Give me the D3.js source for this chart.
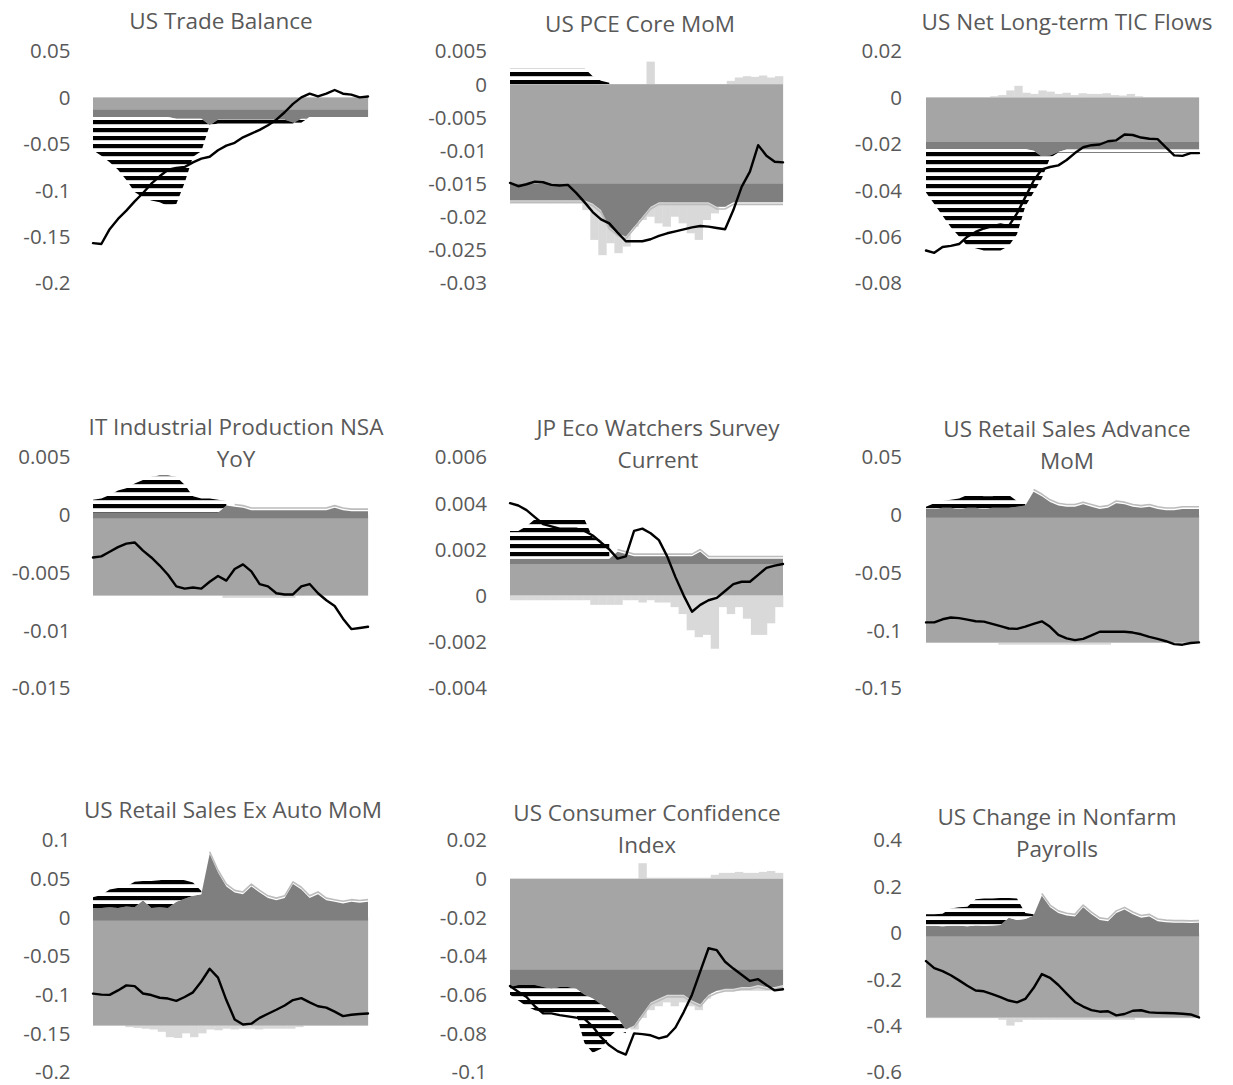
<!DOCTYPE html>
<html><head><meta charset="utf-8">
<script src="https://cdn.jsdelivr.net/npm/d3@7"></script>
<style>body{margin:0;background:#fff}</style></head>
<body>
<script>
// ---------------- DATA ----------------
const titles = [
  ["US Trade Balance"],
  ["US PCE Core MoM"],
  ["US Net Long-term TIC Flows"],
  ["IT Industrial Production NSA", "YoY"],
  ["JP Eco Watchers Survey", "Current"],
  ["US Retail Sales Advance", "MoM"],
  ["US Retail Sales Ex Auto MoM"],
  ["US Consumer Confidence", "Index"],
  ["US Change in Nonfarm", "Payrolls"]
];
const yDomains = [[-0.2,0.05],[-0.03,0.005],[-0.08,0.02],[-0.015,0.005],[-0.004,0.006],[-0.15,0.05],[-0.2,0.1],[-0.1,0.02],[-0.6,0.4]];
const tickValues = [
  [0.05,0,-0.05,-0.1,-0.15,-0.2],
  [0.005,0,-0.005,-0.01,-0.015,-0.02,-0.025,-0.03],
  [0.02,0,-0.02,-0.04,-0.06,-0.08],
  [0.005,0,-0.005,-0.01,-0.015],
  [0.006,0.004,0.002,0,-0.002,-0.004],
  [0.05,0,-0.05,-0.1,-0.15],
  [0.1,0.05,0,-0.05,-0.1,-0.15,-0.2],
  [0.02,0,-0.02,-0.04,-0.06,-0.08,-0.1],
  [0.4,0.2,0,-0.2,-0.4,-0.6]
];
const tickLabels = [
  ["0.05","0","-0.05","-0.1","-0.15","-0.2"],
  ["0.005","0","-0.005","-0.01","-0.015","-0.02","-0.025","-0.03"],
  ["0.02","0","-0.02","-0.04","-0.06","-0.08"],
  ["0.005","0","-0.005","-0.01","-0.015"],
  ["0.006","0.004","0.002","0","-0.002","-0.004"],
  ["0.05","0","-0.05","-0.1","-0.15"],
  ["0.1","0.05","0","-0.05","-0.1","-0.15","-0.2"],
  ["0.02","0","-0.02","-0.04","-0.06","-0.08","-0.1"],
  ["0.4","0.2","0","-0.2","-0.4","-0.6"]
];
// medium grey area: from 0 to this level
const midLevels = [-0.013,-0.015,-0.0192,-0.007,0.00137,-0.1105,-0.140,-0.047,-0.365];
// dark grey band: from darkBase to darkOuter[i]
const darkBases = [-0.013,-0.015,-0.0192,-0.0003,0.00137,-0.0023,-0.004,-0.047,-0.015];
const darkOuter = [
  [-0.021,-0.021,-0.021,-0.021,-0.021,-0.021,-0.021,-0.021,-0.021,-0.021,-0.023,-0.023,-0.023,-0.023,-0.030,-0.024,-0.024,-0.024,-0.024,-0.024,-0.024,-0.024,-0.024,-0.024,-0.027,-0.027,-0.021,-0.021,-0.021,-0.021,-0.021,-0.021,-0.021,-0.021],
  [-0.0175,-0.0175,-0.0175,-0.0175,-0.0175,-0.0175,-0.0175,-0.0175,-0.0175,-0.0175,-0.0180,-0.0190,-0.0215,-0.0225,-0.0230,-0.0215,-0.0200,-0.0185,-0.0178,-0.0178,-0.0178,-0.0178,-0.0178,-0.0178,-0.0178,-0.0185,-0.0185,-0.0178,-0.0178,-0.0178,-0.0178,-0.0178,-0.0178,-0.0178],
  [-0.0222,-0.0222,-0.0222,-0.0222,-0.0222,-0.0222,-0.0222,-0.0222,-0.0222,-0.0222,-0.0222,-0.0222,-0.0222,-0.0230,-0.0255,-0.0250,-0.0235,-0.0225,-0.0225,-0.0225,-0.0225,-0.0225,-0.0225,-0.0225,-0.0225,-0.0225,-0.0225,-0.0225,-0.0225,-0.0225,-0.0225,-0.0225,-0.0225,-0.0225],
  [0.0002,0.0002,0.0002,0.0002,0.0002,0.0002,0.0002,0.0002,0.0002,0.0002,0.0002,0.0002,0.0002,0.0002,0.0002,0.0002,0.0008,0.0007,0.0006,0.0004,0.0004,0.0004,0.0004,0.0004,0.0004,0.0004,0.0004,0.0004,0.0004,0.0006,0.0004,0.0003,0.0003,0.0003],
  [0.0016,0.0016,0.0016,0.0016,0.0016,0.0016,0.0016,0.0016,0.0016,0.0016,0.0016,0.0016,0.0016,0.0019,0.0018,0.0017,0.0017,0.0017,0.0017,0.0017,0.0017,0.0017,0.0017,0.0019,0.0016,0.0016,0.0016,0.0016,0.0016,0.0016,0.0016,0.0016,0.0016,0.0016],
  [0.005,0.005,0.006,0.006,0.005,0.006,0.006,0.005,0.006,0.006,0.006,0.007,0.008,0.020,0.016,0.011,0.008,0.007,0.007,0.009,0.007,0.005,0.006,0.010,0.009,0.007,0.006,0.007,0.005,0.004,0.004,0.005,0.005,0.005],
  [0.012,0.012,0.013,0.012,0.014,0.013,0.022,0.012,0.013,0.012,0.020,0.024,0.028,0.030,0.082,0.058,0.040,0.032,0.030,0.040,0.032,0.025,0.022,0.025,0.043,0.036,0.025,0.030,0.022,0.020,0.018,0.020,0.019,0.020],
  [-0.056,-0.055,-0.055,-0.055,-0.056,-0.057,-0.056,-0.056,-0.057,-0.060,-0.062,-0.065,-0.068,-0.072,-0.078,-0.076,-0.070,-0.064,-0.062,-0.060,-0.060,-0.060,-0.063,-0.065,-0.060,-0.058,-0.057,-0.057,-0.056,-0.056,-0.055,-0.056,-0.056,-0.055],
  [0.030,0.030,0.028,0.030,0.030,0.028,0.032,0.030,0.032,0.034,0.065,0.055,0.060,0.075,0.160,0.110,0.085,0.075,0.070,0.110,0.080,0.055,0.050,0.085,0.100,0.080,0.065,0.070,0.050,0.045,0.043,0.043,0.042,0.043]
];
// striped area: from stripeBase (or the dark band edge when null) to stripeOuter[i]
const stripeBases = [null,0,null,null,null,null,null,null,null];
const stripeOuter = [
  [-0.057,-0.063,-0.070,-0.078,-0.089,-0.102,-0.108,-0.111,-0.113,-0.117,-0.115,-0.092,-0.064,-0.058,-0.030,-0.028,-0.028,-0.028,-0.028,-0.028,-0.028,-0.028,-0.028,-0.028,-0.028,-0.023,-0.023,-0.023,-0.023,-0.023,-0.023,-0.023,-0.023,-0.023],
  [0.0024,0.0024,0.0024,0.0024,0.0024,0.0024,0.0024,0.0024,0.0024,0.0024,0.0012,0.0005,0.0002,null,null,null,null,null,null,null,null,null,null,null,null,null,null,null,null,null,null,null,null,null],
  [-0.041,-0.046,-0.051,-0.056,-0.060,-0.064,-0.065,-0.066,-0.066,-0.066,-0.064,-0.059,-0.047,-0.041,-0.035,-0.026,-0.0238,-0.0238,-0.0238,-0.0238,-0.0238,-0.0238,-0.0238,-0.0238,-0.0238,-0.0238,-0.0238,-0.0238,-0.0238,-0.0238,-0.0238,-0.0238,-0.0238,-0.0238],
  [0.0013,0.0014,0.0017,0.0021,0.0023,0.0027,0.0030,0.0033,0.0034,0.0034,0.0033,0.0026,0.0016,0.0014,0.0014,0.0013,0.0012,null,null,null,null,null,null,null,null,null,null,null,null,null,null,null,null,null],
  [0.0028,0.0028,0.0030,0.0033,0.0034,0.0034,0.0034,0.0034,0.0034,0.0033,0.0025,0.0024,0.0023,null,null,null,null,null,null,null,null,null,null,null,null,null,null,null,null,null,null,null,null,null],
  [0.007,0.010,0.012,0.013,0.014,0.017,0.017,0.016,0.016,0.017,0.017,0.012,0.010,null,null,null,null,null,null,null,null,null,null,null,null,null,null,null,null,null,null,null,null,null],
  [0.026,0.029,0.036,0.038,0.040,0.046,0.047,0.047,0.048,0.050,0.050,0.048,0.045,0.034,null,null,null,null,null,null,null,null,null,null,null,null,null,null,null,null,null,null,null,null],
  [-0.060,-0.063,-0.066,-0.068,-0.069,-0.069,-0.069,-0.069,-0.070,-0.085,-0.090,-0.088,-0.082,-0.078,-0.080,null,null,null,null,null,null,null,null,null,null,null,null,null,null,null,null,null,null,null],
  [0.080,0.080,0.082,0.105,0.110,0.112,0.145,0.148,0.148,0.150,0.150,0.148,0.085,0.080,null,null,null,null,null,null,null,null,null,null,null,null,null,null,null,null,null,null,null,null]
];
// light grey columns (drawn behind): low and high ends
const lightLo = [
  [-0.021,-0.021,-0.021,-0.021,-0.021,-0.021,-0.021,-0.021,-0.021,-0.027,-0.027,-0.027,-0.027,-0.027,-0.027,-0.027,-0.027,-0.027,-0.027,-0.027,-0.027,-0.027,-0.027,-0.027,-0.027,-0.021,-0.021,-0.021,-0.021,-0.021,-0.021,-0.021,-0.021,-0.021],
  [-0.018,-0.018,-0.018,-0.018,-0.018,-0.018,-0.018,-0.018,-0.018,-0.019,-0.0235,-0.0258,-0.0240,-0.0255,-0.0245,-0.0215,-0.0205,-0.0200,-0.0210,-0.0215,-0.0200,-0.0210,-0.0225,-0.0235,-0.0205,-0.0195,-0.0185,-0.0178,-0.0178,-0.0178,-0.0178,-0.0178,-0.0178,-0.0178],
  [-0.0225,-0.0225,-0.0225,-0.0225,-0.0225,-0.0225,-0.0225,-0.0225,-0.0225,-0.0225,-0.0225,-0.0225,-0.0225,-0.0225,-0.0225,-0.0225,-0.0225,-0.0225,-0.0225,-0.0225,-0.0225,-0.0225,-0.0225,-0.0225,-0.0225,-0.0225,-0.0225,-0.0225,-0.0225,-0.0225,-0.0225,-0.0225,-0.0225,-0.0225],
  [-0.007,-0.007,-0.007,-0.007,-0.007,-0.007,-0.007,-0.007,-0.007,-0.007,-0.007,-0.007,-0.007,-0.007,-0.007,-0.007,-0.0072,-0.0072,-0.0072,-0.0072,-0.0072,-0.0072,-0.0072,-0.0072,-0.0072,-0.007,-0.007,-0.007,-0.007,-0.007,-0.007,-0.007,-0.007,-0.007],
  [-0.0002,-0.0002,-0.0002,-0.0002,-0.0002,-0.0002,-0.0002,-0.0002,-0.0002,-0.0002,-0.0004,-0.0004,-0.0004,-0.0004,-0.0002,-0.0002,-0.0003,-0.0002,-0.0003,-0.0003,-0.0005,-0.0008,-0.0015,-0.0018,-0.0017,-0.0023,-0.0005,-0.0008,-0.0005,-0.0010,-0.0017,-0.0017,-0.0012,-0.0005],
  [-0.111,-0.111,-0.111,-0.111,-0.111,-0.111,-0.111,-0.111,-0.111,-0.1125,-0.1125,-0.1125,-0.1125,-0.1125,-0.1125,-0.1125,-0.1125,-0.1125,-0.1125,-0.1125,-0.1125,-0.1125,-0.1125,-0.111,-0.111,-0.111,-0.111,-0.111,-0.111,-0.111,-0.111,-0.111,-0.111,-0.111],
  [-0.140,-0.140,-0.140,-0.140,-0.142,-0.143,-0.144,-0.145,-0.148,-0.155,-0.156,-0.150,-0.155,-0.150,-0.145,-0.146,-0.144,-0.145,-0.144,-0.144,-0.145,-0.144,-0.144,-0.144,-0.144,-0.142,-0.140,-0.140,-0.140,-0.140,-0.140,-0.140,-0.140,-0.140],
  [-0.056,-0.056,-0.056,-0.056,-0.056,-0.056,-0.056,-0.056,-0.058,-0.066,-0.070,-0.068,-0.070,-0.072,-0.075,-0.078,-0.072,-0.068,-0.066,-0.064,-0.066,-0.064,-0.066,-0.068,-0.062,-0.058,-0.058,-0.058,-0.058,-0.058,-0.058,-0.058,-0.058,-0.058],
  [-0.368,-0.368,-0.368,-0.368,-0.368,-0.368,-0.368,-0.368,-0.368,-0.375,-0.400,-0.385,-0.375,-0.375,-0.375,-0.375,-0.375,-0.375,-0.375,-0.375,-0.375,-0.375,-0.375,-0.375,-0.375,-0.375,-0.368,-0.368,-0.368,-0.368,-0.368,-0.368,-0.368,-0.368]
];
const lightHi = [
  [0,0,0,0,0,0,0,0,0,0,0,0,0,0,0,0,0,0,0,0,0,0,0,0,0,0,0,0,0,0,0,0,0,0],
  [0,0,0,0,0,0,0,0,0,0,0,0,0,0,0,0,0,0.0034,0,0,0,0,0,0,0,0,0,0.0005,0.0010,0.0012,0.0011,0.0013,0.0010,0.0012],
  [0,0,0,0,0,0,0,0,0.0005,0.001,0.003,0.005,0.002,0.0015,0.003,0.0025,0.0015,0.002,0.001,0.0018,0.0015,0.0015,0.0018,0.001,0.0008,0.0015,0.0005,0,0,0,0,0,0,0],
  [0,0,0,0,0,0,0,0,0,0,0,0,0,0,0,0,0,0,0,0,0,0,0,0,0,0,0,0,0,0,0,0,0,0],
  [0,0,0,0,0,0,0,0,0,0,0,0,0,0,0,0,0,0,0,0,0,0,0,0,0,0,0,0,0,0,0,0,0,0],
  [0,0,0,0,0,0,0,0,0,0,0,0,0,0,0,0,0,0,0,0,0,0,0,0,0,0,0,0,0,0,0,0,0,0],
  [0,0,0,0,0,0,0,0,0,0,0,0,0,0,0,0,0,0,0,0,0,0,0,0,0,0,0,0,0,0,0,0,0,0],
  [0,0,0,0,0,0,0,0,0,0,0,0,0,0,0,0,0.008,0.0005,0.0005,0.0005,0.0005,0.0005,0.0005,0.0005,0.0005,0.002,0.003,0.003,0.0035,0.003,0.003,0.0035,0.004,0.003],
  [0,0,0,0,0,0,0,0,0,0,0,0,0,0,0,0,0,0,0,0,0,0,0,0,0,0,0,0,0,0,0,0,0,0]
];
// black line series
const lineValues = [
  [-0.157,-0.158,-0.142,-0.131,-0.122,-0.112,-0.103,-0.093,-0.085,-0.078,-0.076,-0.075,-0.070,-0.066,-0.064,-0.057,-0.052,-0.049,-0.043,-0.039,-0.035,-0.030,-0.024,-0.016,-0.007,0.000,0.004,0.001,0.004,0.008,0.004,0.003,0.000,0.001],
  [-0.0149,-0.0154,-0.0151,-0.0147,-0.0148,-0.0152,-0.0153,-0.0152,-0.0164,-0.0178,-0.0193,-0.0204,-0.0210,-0.0224,-0.0237,-0.0237,-0.0237,-0.0234,-0.0229,-0.0225,-0.0222,-0.0219,-0.0216,-0.0214,-0.0215,-0.0217,-0.0219,-0.0190,-0.0155,-0.0132,-0.0092,-0.0108,-0.0117,-0.0118],
  [-0.066,-0.067,-0.0645,-0.064,-0.0632,-0.060,-0.058,-0.0565,-0.0555,-0.0548,-0.0555,-0.050,-0.043,-0.036,-0.031,-0.030,-0.0293,-0.027,-0.024,-0.0215,-0.0206,-0.0203,-0.0189,-0.0185,-0.016,-0.0162,-0.0173,-0.0178,-0.018,-0.0215,-0.025,-0.0252,-0.024,-0.024],
  [-0.0037,-0.0036,-0.0032,-0.0028,-0.0025,-0.0024,-0.0031,-0.0037,-0.0044,-0.0052,-0.0062,-0.0064,-0.0063,-0.0064,-0.0058,-0.0053,-0.0057,-0.0047,-0.0043,-0.0049,-0.0060,-0.0062,-0.0068,-0.0069,-0.0069,-0.0062,-0.0060,-0.0068,-0.0074,-0.0079,-0.0090,-0.0099,-0.0098,-0.0097],
  [0.0040,0.0039,0.0037,0.0034,0.0031,0.0030,0.0029,0.0029,0.0029,0.0028,0.0026,0.0023,0.0020,0.0016,0.0017,0.0028,0.0029,0.0027,0.0024,0.0017,0.0008,0.0000,-0.0007,-0.0004,-0.0002,-0.0001,0.0002,0.0005,0.0006,0.0006,0.0009,0.0012,0.0013,0.00137],
  [-0.0932,-0.0932,-0.0905,-0.0890,-0.0895,-0.0908,-0.0922,-0.0925,-0.0945,-0.0965,-0.0985,-0.0988,-0.0968,-0.0945,-0.0923,-0.0970,-0.1040,-0.1070,-0.1085,-0.1075,-0.1045,-0.1013,-0.1013,-0.1013,-0.1013,-0.1020,-0.1035,-0.1058,-0.1075,-0.1095,-0.1120,-0.1125,-0.1110,-0.1105],
  [-0.0986,-0.1000,-0.1003,-0.0945,-0.0880,-0.0890,-0.0985,-0.1005,-0.1040,-0.1050,-0.1080,-0.1030,-0.0970,-0.0830,-0.0665,-0.0780,-0.1070,-0.1320,-0.1385,-0.1375,-0.1300,-0.1247,-0.1195,-0.1140,-0.1070,-0.1045,-0.1100,-0.1150,-0.1168,-0.1220,-0.1277,-0.1260,-0.1250,-0.1243],
  [-0.0555,-0.0585,-0.0612,-0.0660,-0.0696,-0.0697,-0.0706,-0.0712,-0.0719,-0.0725,-0.0765,-0.0820,-0.0862,-0.0892,-0.0910,-0.0800,-0.0804,-0.0810,-0.0826,-0.0815,-0.0770,-0.0690,-0.0600,-0.0480,-0.0360,-0.0370,-0.0430,-0.0465,-0.0497,-0.0529,-0.0520,-0.0550,-0.0578,-0.0572],
  [-0.122,-0.152,-0.165,-0.183,-0.205,-0.228,-0.249,-0.252,-0.264,-0.277,-0.292,-0.300,-0.285,-0.238,-0.178,-0.194,-0.225,-0.262,-0.298,-0.318,-0.333,-0.340,-0.338,-0.356,-0.350,-0.336,-0.334,-0.343,-0.345,-0.346,-0.347,-0.349,-0.352,-0.365]
];

// ---------------- LAYOUT ----------------
const W = 1233, H = 1085;
const colX = [[93,368],[510,783],[926,1199]];
const rowY = [[51,283],[457,688],[840,1072]];
const labelRight = [70.5, 487, 902];
const titleCX = [221,640,1067,236,658,1067,233,647,1057];
const titleY = [28.5,31.5,30,435,436,437,818,821,825];
const titleLH = 32;
const TEXT = "#595959", MID = "#a5a5a5", DARK = "#7f7f7f", LIGHT = "#d9d9d9", OUTLINE = "#bcbcbc";
const FONT = "'Open Sans', 'DejaVu Sans', sans-serif";

const svg = d3.select("body").append("svg").attr("width", W).attr("height", H)
  .style("background", "#fff");
const pat = svg.append("defs").append("pattern")
  .attr("id", "hstripe").attr("patternUnits", "userSpaceOnUse")
  .attr("width", 8).attr("height", 8);
pat.append("rect").attr("width", 8).attr("height", 8).attr("fill", "#fff");
pat.append("rect").attr("width", 8).attr("height", 4.2).attr("fill", "#000");

titles.forEach((tl, k) => {
  const c = k % 3, r = Math.floor(k / 3);
  const n = lineValues[k].length;
  const x = d3.scaleLinear().domain([0, n - 1]).range(colX[c]);
  const xb = d3.scaleBand().domain(d3.range(n)).range(colX[c]);
  const y = d3.scaleLinear().domain(yDomains[k]).range([rowY[r][1], rowY[r][0]]);
  const g = svg.append("g");
  const idx = d3.range(n);

  // light grey columns (behind)
  g.append("g").selectAll("rect").data(idx).join("rect")
    .attr("x", i => xb(i)).attr("width", xb.bandwidth() + 0.3)
    .attr("y", i => y(Math.max(0, lightLo[k][i])))
    .attr("height", i => Math.abs(y(lightLo[k][i]) - y(0)))
    .attr("fill", LIGHT);
  g.append("g").selectAll("rect").data(idx.filter(i => lightHi[k][i] > 0)).join("rect")
    .attr("x", i => xb(i)).attr("width", xb.bandwidth() + 0.3)
    .attr("y", i => y(lightHi[k][i]))
    .attr("height", i => y(0) - y(lightHi[k][i]))
    .attr("fill", LIGHT);

  // medium grey area
  const midArea = d3.area().x(i => x(i)).y0(() => y(0)).y1(() => y(midLevels[k]));
  g.append("path").attr("d", midArea(idx)).attr("fill", MID);

  // outline line series just outside the dark band edge (where no stripes)
  const sign = darkOuter[k][0] >= darkBases[k] ? -1 : 1; // pixel direction outward
  const outIdx = idx.filter(i => stripeOuter[k][i] == null || (stripeBases[k] != null));
  const outLine = off => d3.line().x(i => x(i)).y(i => y(darkOuter[k][i]) + sign * off);
  g.append("path").attr("d", outLine(2.2)(outIdx)).attr("fill", "none")
    .attr("stroke", OUTLINE).attr("stroke-width", 1.6).attr("stroke-linejoin", "round");

  // dark grey band
  const darkArea = d3.area().x(i => x(i)).y0(() => y(darkBases[k])).y1(i => y(darkOuter[k][i]));
  g.append("path").attr("d", darkArea(idx)).attr("fill", DARK);

  // striped area
  const sb = stripeBases[k];
  const stripeArea = d3.area()
    .defined(i => stripeOuter[k][i] != null)
    .x(i => x(i))
    .y0(i => y(sb == null ? darkOuter[k][i] : sb))
    .y1(i => y(stripeOuter[k][i]));
  g.append("path").attr("d", stripeArea(idx)).attr("fill", "url(#hstripe)");

  // black line
  const line = d3.line().x(i => x(i)).y(i => y(lineValues[k][i]));
  g.append("path").attr("d", line(idx)).attr("fill", "none")
    .attr("stroke", "#000").attr("stroke-width", 2.4)
    .attr("stroke-linejoin", "round").attr("stroke-linecap", "round");

  // y axis labels
  const ax = d3.axisLeft(y).tickValues(tickValues[k])
    .tickFormat((d, i) => tickLabels[k][i]).tickSize(0).tickPadding(0);
  const ag = svg.append("g").attr("transform", `translate(${labelRight[c]},0)`).call(ax);
  ag.select(".domain").remove();
  ag.selectAll("text").attr("fill", TEXT).attr("font-family", FONT)
    .attr("font-size", 20.5).attr("dy", "0.34em");

  // title
  const t = svg.append("text").attr("text-anchor", "middle")
    .attr("font-family", FONT).attr("font-size", 22.5).attr("fill", TEXT);
  tl.forEach((s, j) => t.append("tspan").attr("x", titleCX[k])
    .attr("y", titleY[k] + j * titleLH).text(s));
});
</script>
</body></html>
